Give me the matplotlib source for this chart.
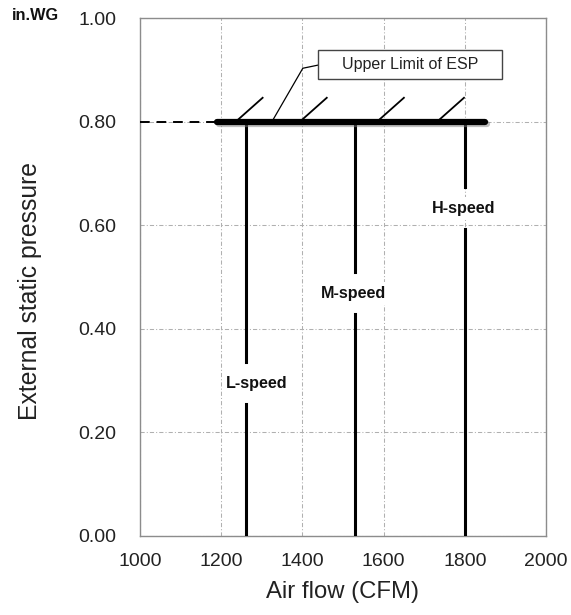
import matplotlib
matplotlib.use("Agg")
import matplotlib.pyplot as plt
from matplotlib.patches import Rectangle
import matplotlib.patheffects as pe

plt.rcParams['font.family'] = ['Liberation Sans', 'DejaVu Sans']

# Fan speed operating air flows (CFM) and the ESP limit (in.WG)
speed_names = ["L-speed", "M-speed", "H-speed"]
speed_flow = [1260, 1530, 1800]
label_pos_x = [1288, 1527, 1796]
label_pos_y = [0.295, 0.469, 0.633]

esp_limit = 0.80
esp_range = [1190, 1850]
hatch_x = [1236, 1394, 1584, 1732]

x_ticks = [1000, 1200, 1400, 1600, 1800, 2000]
y_ticks = [0.0, 0.2, 0.4, 0.6, 0.8, 1.0]

fig = plt.figure(figsize=(5.71, 6.15), dpi=100)
ax = fig.add_axes([0.2452, 0.1285, 0.7110, 0.8422])
ax.set_xlim(1000, 2000)
ax.set_ylim(0, 1.0)

ax.set_xticks(x_ticks)
ax.set_yticks(y_ticks)
ax.set_yticklabels([f"{v:.2f}" for v in y_ticks])
ax.tick_params(length=0, labelsize=14, labelcolor="#222222")
ax.tick_params(axis='x', pad=12)
ax.tick_params(axis='y', pad=17)
for s in ax.spines.values():
    s.set_color("#8c8c8c")
    s.set_linewidth(1.0)

ax.grid(True, linestyle=(0, (4, 2, 1, 2)), color="#b0b0b0", linewidth=0.75)
ax.set_axisbelow(True)

ax.set_xlabel("Air flow (CFM)", fontsize=17.2, color="#222222", labelpad=8)
ax.set_ylabel("External static pressure", fontsize=17.8, color="#222222")
ax.yaxis.set_label_coords(-0.241, 0.473)

# Dashed lead-in to the upper limit line
ax.plot([1000, esp_range[0]], [esp_limit, esp_limit], color="black",
        linewidth=1.4, linestyle=(0, (5, 3.5)), zorder=3)

# Upper limit of ESP (thick bar with a soft shadow)
ax.plot(esp_range, [esp_limit, esp_limit], color="black", linewidth=4.5,
        solid_capstyle="round", zorder=5,
        path_effects=[pe.SimpleLineShadow(offset=(1.5, -1.5), shadow_color="gray", alpha=0.5),
                      pe.Normal()])

# Hatch marks above the limit line
dx, dy = 66, 0.046
for hx in hatch_x:
    ax.plot([hx, hx + dx], [esp_limit, esp_limit + dy], color="black",
            linewidth=1.3, zorder=5)

# Callout box
box_x0, box_x1 = 1438, 1892
box_y0, box_y1 = 0.882, 0.938
ax.add_patch(Rectangle((box_x0, box_y0), box_x1 - box_x0, box_y1 - box_y0,
                       facecolor="white", edgecolor="#444444", linewidth=1.0, zorder=6))
ax.text((box_x0 + box_x1) / 2, (box_y0 + box_y1) / 2, "Upper Limit of ESP",
        ha="center", va="center", fontsize=11.5, color="#222222", zorder=7)
ax.plot([1325, 1401, box_x0], [esp_limit, 0.903, 0.909], color="black",
        linewidth=0.9, zorder=5)

# Speed lines, interrupted at their labels
gap = 0.040
for name, fx, lx, ly in zip(speed_names, speed_flow, label_pos_x, label_pos_y):
    ax.plot([fx, fx], [0, ly - gap], color="black", linewidth=2.2, zorder=4)
    ax.plot([fx, fx], [ly + gap, esp_limit], color="black", linewidth=2.2, zorder=4)
    ax.text(lx, ly, name, ha="center", va="center", fontsize=11.6, fontweight="bold",
            color="#111111", zorder=6,
            bbox=dict(boxstyle="square,pad=0.25", facecolor="white", edgecolor="none"))

fig.text(12 / 571, 1 - 15 / 615, "in.WG", fontsize=11.7, fontweight="bold",
         color="#111111", ha="left", va="center")

fig.savefig("out.png", dpi=100)
